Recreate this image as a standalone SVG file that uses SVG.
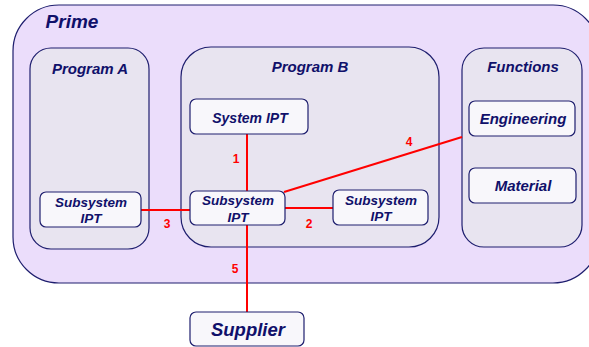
<svg xmlns="http://www.w3.org/2000/svg" width="589" height="347" viewBox="0 0 589 347">
  <style>
    .frame { fill: #ebddfb; stroke: #1e1e6e; stroke-width: 1.2; }
    .group { fill: #e8e4f0; stroke: #1e1e6e; stroke-width: 1.2; }
    .box { fill: #f8f7fb; stroke: #1e1e6e; stroke-width: 1.2; }
    .t { font-family: "Liberation Sans", Arial, sans-serif; font-weight: bold; font-style: italic; fill: #10106a; text-anchor: middle; }
    .link { stroke: #ff0000; stroke-width: 2; fill: none; }
    .num { font-family: "Liberation Sans", Arial, sans-serif; font-weight: bold; font-size: 12px; fill: #ff0000; text-anchor: middle; }
  </style>

  <g id="prime">
    <rect class="frame" x="13" y="5" width="586" height="278" rx="46" ry="46"/>
    <text class="t" x="72" y="28" style="font-size:19px">Prime</text>
  </g>

  <g id="program-a">
    <rect class="group" x="30" y="48" width="119" height="201" rx="21" ry="21"/>
    <text class="t" x="90" y="74" style="font-size:15px">Program A</text>
  </g>

  <g id="program-b">
    <rect class="group" x="181" y="47" width="258" height="200" rx="30" ry="30"/>
    <text class="t" x="310" y="72" style="font-size:15px">Program B</text>
  </g>

  <g id="functions">
    <rect class="group" x="462" y="48" width="120" height="199" rx="22" ry="22"/>
    <text class="t" x="523" y="72" style="font-size:15px">Functions</text>
  </g>

  <g id="connectors">
    <line class="link" x1="247" y1="134" x2="247" y2="191"/>
    <line class="link" x1="285" y1="208" x2="333" y2="208"/>
    <line class="link" x1="141" y1="210" x2="190" y2="210"/>
    <line class="link" x1="284" y1="192" x2="462" y2="137"/>
    <line class="link" x1="247" y1="225" x2="247" y2="312"/>
    <text class="num" x="236" y="163">1</text>
    <text class="num" x="309" y="228">2</text>
    <text class="num" x="167" y="228">3</text>
    <text class="num" x="409" y="146">4</text>
    <text class="num" x="235" y="273">5</text>
  </g>

  <g id="system-ipt">
    <rect class="box" x="190" y="99" width="118" height="35" rx="6" ry="6"/>
    <text class="t" x="250" y="123" style="font-size:14px">System IPT</text>
  </g>

  <g id="engineering">
    <rect class="box" x="469" y="101" width="106" height="35" rx="6" ry="6"/>
    <text class="t" x="523" y="124" style="font-size:15px">Engineering</text>
  </g>

  <g id="material">
    <rect class="box" x="469" y="168" width="107" height="35" rx="6" ry="6"/>
    <text class="t" x="523" y="191" style="font-size:15px">Material</text>
  </g>

  <g id="subsystem-ipt-a">
    <rect class="box" x="40" y="192" width="101" height="35" rx="6" ry="6"/>
    <text class="t" x="91" y="207" style="font-size:13.5px">Subsystem</text>
    <text class="t" x="91" y="223" style="font-size:13.5px">IPT</text>
  </g>

  <g id="subsystem-ipt-b">
    <rect class="box" x="190" y="191" width="95" height="34" rx="6" ry="6"/>
    <text class="t" x="238" y="205" style="font-size:13.5px">Subsystem</text>
    <text class="t" x="238" y="222" style="font-size:13.5px">IPT</text>
  </g>

  <g id="subsystem-ipt-c">
    <rect class="box" x="333" y="190" width="95" height="35" rx="6" ry="6"/>
    <text class="t" x="381" y="205" style="font-size:13.5px">Subsystem</text>
    <text class="t" x="381" y="221" style="font-size:13.5px">IPT</text>
  </g>

  <g id="supplier">
    <rect class="box" x="190" y="312" width="114" height="34" rx="6" ry="6"/>
    <text class="t" x="248" y="336" style="font-size:18.5px">Supplier</text>
  </g>
</svg>
